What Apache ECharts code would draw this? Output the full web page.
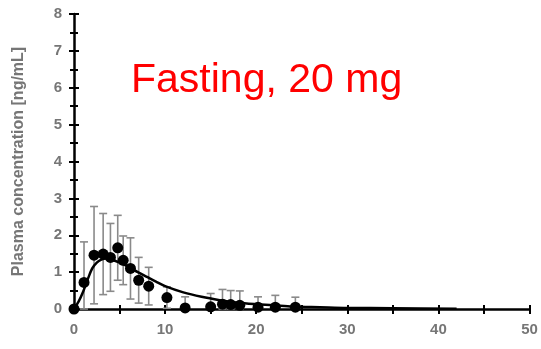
<!DOCTYPE html>
<html>
<head>
<meta charset="utf-8">
<script src="https://cdn.jsdelivr.net/npm/echarts@6/dist/echarts.min.js"></script>
<style>
  html, body { margin: 0; padding: 0; background: #fff; }
  #chart { width: 541px; height: 349px; }
</style>
</head>
<body>
<div id="chart"></div>
<script>
// Observed plasma concentrations (mean ± SD) after a 20 mg dose, fasting
const timeH = [0, 1.1, 2.2, 3.2, 4.0, 4.8, 5.4, 6.2, 7.1, 8.2, 10.2, 12.2, 15.0, 16.3, 17.2, 18.2, 20.2, 22.1, 24.3];
const meanConc = [0, 0.72, 1.46, 1.49, 1.40, 1.66, 1.32, 1.10, 0.78, 0.62, 0.31, 0.03, 0.06, 0.13, 0.12, 0.10, 0.05, 0.05, 0.05];
const sdConc = [0, 1.10, 1.32, 1.10, 0.92, 0.88, 0.66, 0.83, 0.62, 0.51, 0.29, 0.30, 0.36, 0.40, 0.38, 0.39, 0.28, 0.32, 0.27];

// Model-predicted concentration profile
const fitTime = [0, 0.5, 1, 1.5, 2, 2.5, 3, 3.5, 4, 5, 6, 7, 8, 9, 10, 12, 14, 16, 18, 20, 22, 24, 27, 30, 35, 42];
const fitConc = [0, 0.2, 0.47, 0.8, 1.1, 1.26, 1.34, 1.37, 1.35, 1.26, 1.14, 1.0, 0.87, 0.74, 0.62, 0.45, 0.33, 0.24, 0.17, 0.13, 0.10, 0.07, 0.05, 0.03, 0.02, 0.01];

const xTicks = [0, 10, 20, 30, 40, 50];
const yTicks = [0, 1, 2, 3, 4, 5, 6, 7, 8];

const titleText = 'Fasting, 20 mg';
const yTitle = 'Plasma concentration [ng/mL]';

const points = timeH.map((t, i) => [t, meanConc[i]]);
const errBars = timeH.map((t, i) => [t, Math.max(0, meanConc[i] - sdConc[i]), meanConc[i] + sdConc[i]]);
const fitLine = fitTime.map((t, i) => [t, fitConc[i]]);

const labelStyle = { color: '#767676', fontFamily: 'Liberation Sans, Arial, sans-serif', fontSize: 15, fontWeight: 'bold' };
const axisLineStyle = { color: '#000', width: 2.5 };
const tickStyle = { color: '#000', width: 2 };

const chart = echarts.init(document.getElementById('chart'));
chart.setOption({
  animation: false,
  backgroundColor: '#fff',
  grid: { left: 74, right: 11.5, top: 14, bottom: 40 },
  xAxis: [
    {
      type: 'value', min: xTicks[0], max: xTicks[xTicks.length - 1], interval: 10,
      axisLine: { show: true, onZero: false, lineStyle: axisLineStyle },
      axisTick: { show: true, length: 5, lineStyle: tickStyle },
      minorTick: { show: true, splitNumber: 2, length: 5, lineStyle: tickStyle },
      axisLabel: Object.assign({ margin: 13 }, labelStyle),
      splitLine: { show: false }
    },
    {
      type: 'value', position: 'bottom', min: xTicks[0], max: xTicks[xTicks.length - 1], interval: 10,
      axisLine: { show: false },
      axisTick: { show: true, inside: true, length: 4, lineStyle: tickStyle },
      minorTick: { show: true, splitNumber: 2, length: 4, lineStyle: tickStyle },
      axisLabel: { show: false },
      splitLine: { show: false }
    }
  ],
  yAxis: [
    {
      type: 'value', min: yTicks[0], max: yTicks[yTicks.length - 1], interval: 1,
      axisLine: { show: true, onZero: false, lineStyle: axisLineStyle },
      axisTick: { show: true, length: 5, lineStyle: tickStyle },
      minorTick: { show: true, splitNumber: 2, length: 4, lineStyle: tickStyle },
      axisLabel: Object.assign({ margin: 12 }, labelStyle),
      splitLine: { show: false },
      name: yTitle, nameLocation: 'middle', nameRotate: 90, nameGap: 47,
      nameTextStyle: { color: '#767676', fontFamily: 'Liberation Sans, Arial, sans-serif', fontSize: 16, fontWeight: 'bold' }
    },
    {
      type: 'value', position: 'left', min: yTicks[0], max: yTicks[yTicks.length - 1], interval: 1,
      axisLine: { show: false },
      axisTick: { show: true, inside: true, length: 5, lineStyle: tickStyle },
      minorTick: { show: true, splitNumber: 2, length: 4, lineStyle: tickStyle },
      axisLabel: { show: false },
      splitLine: { show: false }
    }
  ],
  series: [
    {
      type: 'custom',
      data: errBars,
      z: 2,
      renderItem: function (params, api) {
        const x = api.value(0);
        const lo = api.coord([x, api.value(1)]);
        const hi = api.coord([x, api.value(2)]);
        const cap = 4;
        const style = { stroke: '#8a8a8a', lineWidth: 1.6 };
        return {
          type: 'group',
          children: [
            { type: 'line', shape: { x1: hi[0], y1: hi[1], x2: lo[0], y2: lo[1] }, style: style },
            { type: 'line', shape: { x1: hi[0] - cap, y1: hi[1], x2: hi[0] + cap, y2: hi[1] }, style: style },
            { type: 'line', shape: { x1: lo[0] - cap, y1: lo[1], x2: lo[0] + cap, y2: lo[1] }, style: style }
          ]
        };
      }
    },
    {
      type: 'line',
      data: fitLine,
      smooth: 0.3,
      showSymbol: false,
      z: 3,
      lineStyle: { color: '#000', width: 2.5 }
    },
    {
      type: 'scatter',
      data: points,
      symbol: 'circle',
      symbolSize: 11,
      z: 4,
      itemStyle: { color: '#000', opacity: 1 }
    }
  ],
  graphic: [
    {
      type: 'text',
      left: 131,
      top: 60,
      style: {
        text: titleText,
        fill: '#ff0000',
        font: '41px "Liberation Sans", Arial, sans-serif'
      }
    }
  ]
});
</script>
</body>
</html>
